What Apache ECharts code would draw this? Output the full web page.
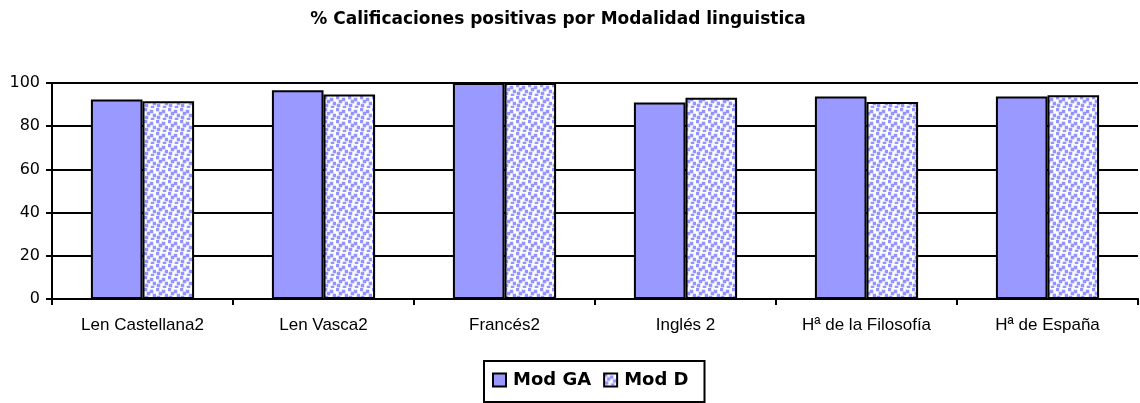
<!DOCTYPE html>
<html>
<head>
<meta charset="utf-8">
<script src="https://cdn.jsdelivr.net/npm/echarts@6/dist/echarts.min.js"></script>
<style>
  html, body { margin: 0; padding: 0; background: #fff; }
  #chart { width: 1140px; height: 403px; }
</style>
</head>
<body>
<div id="chart"></div>
<script>
// Subjects on the x axis
const categories = ['Len Castellana2', 'Len Vasca2', 'Francés2', 'Inglés 2', 'Hª de la Filosofía', 'Hª de España'];
// Percentage of passing grades per linguistic model
const modGA = [92.4, 96.6, 100, 91.0, 93.8, 93.8];
const modD  = [91.6, 94.7, 100, 93.2, 91.2, 94.3];
const yTicks = [0, 20, 40, 60, 80, 100];

// Dotted fill for the "Mod D" bars: small periwinkle squares on white
function dottedPattern() {
  const c = document.createElement('canvas');
  c.width = 12; c.height = 12;
  const g = c.getContext('2d');
  g.fillStyle = '#ffffff';
  g.fillRect(0, 0, 12, 12);
  const pts = [[0, 0], [6, 2], [3, 4], [9, 6], [1, 8], [7, 10]];
  g.fillStyle = '#c8c8ff';
  pts.forEach(p => g.fillRect(p[0] - 0.5, p[1] - 0.5, 4, 4));
  g.fillStyle = '#9494ff';
  pts.forEach(p => g.fillRect(p[0], p[1], 3, 3));
  return c;
}
const dots = { image: dottedPattern(), repeat: 'repeat' };

const chart = echarts.init(document.getElementById('chart'));
chart.setOption({
  animation: false,
  backgroundColor: '#ffffff',
  title: {
    text: '% Calificaciones positivas por Modalidad linguistica',
    left: 553,
    textAlign: 'center',
    top: 6,
    textStyle: { fontFamily: 'DejaVu Sans', fontSize: 17, fontWeight: 'bold', color: '#000' }
  },
  legend: {
    left: 484,
    top: 361,
    padding: [10, 16, 13, 8],
    itemGap: 12,
    itemWidth: 13,
    itemHeight: 13,
    borderColor: '#000',
    borderWidth: 2,
    textStyle: { fontFamily: 'DejaVu Sans', fontSize: 18, lineHeight: 18, fontWeight: 'bold', color: '#000', padding: [0, 0, 0, 2] },
    data: [
      { name: 'Mod GA', icon: 'rect', itemStyle: { color: '#9999ff', borderColor: '#000', borderWidth: 2 } },
      { name: 'Mod D', icon: 'rect', itemStyle: { color: dots, borderColor: '#000', borderWidth: 2 } }
    ]
  },
  grid: { left: 52, right: 2, top: 83, bottom: 104 },
  xAxis: {
    type: 'category',
    data: categories,
    axisLine: { lineStyle: { color: '#000', width: 2 } },
    axisTick: { show: true, length: 6, lineStyle: { color: '#000', width: 2 } },
    axisLabel: { fontFamily: 'Liberation Sans', fontSize: 17, color: '#000', margin: 18, interval: 0 }
  },
  yAxis: {
    type: 'value',
    min: yTicks[0],
    max: yTicks[yTicks.length - 1],
    interval: yTicks[1] - yTicks[0],
    axisLine: { show: true, lineStyle: { color: '#000', width: 2 } },
    axisTick: { show: true, length: 6, lineStyle: { color: '#000', width: 2 } },
    splitLine: { show: true, lineStyle: { color: '#000', width: 2 } },
    axisLabel: { fontFamily: 'DejaVu Sans', fontSize: 16, color: '#000', margin: 12 }
  },
  series: [
    {
      name: 'Mod GA',
      type: 'bar',
      data: modGA,
      barGap: '0%',
      barCategoryGap: '43%',
      itemStyle: { color: '#9999ff', borderColor: '#000', borderWidth: 2 }
    },
    {
      name: 'Mod D',
      type: 'bar',
      data: modD,
      itemStyle: { color: dots, borderColor: '#000', borderWidth: 2 }
    }
  ]
});
</script>
</body>
</html>
